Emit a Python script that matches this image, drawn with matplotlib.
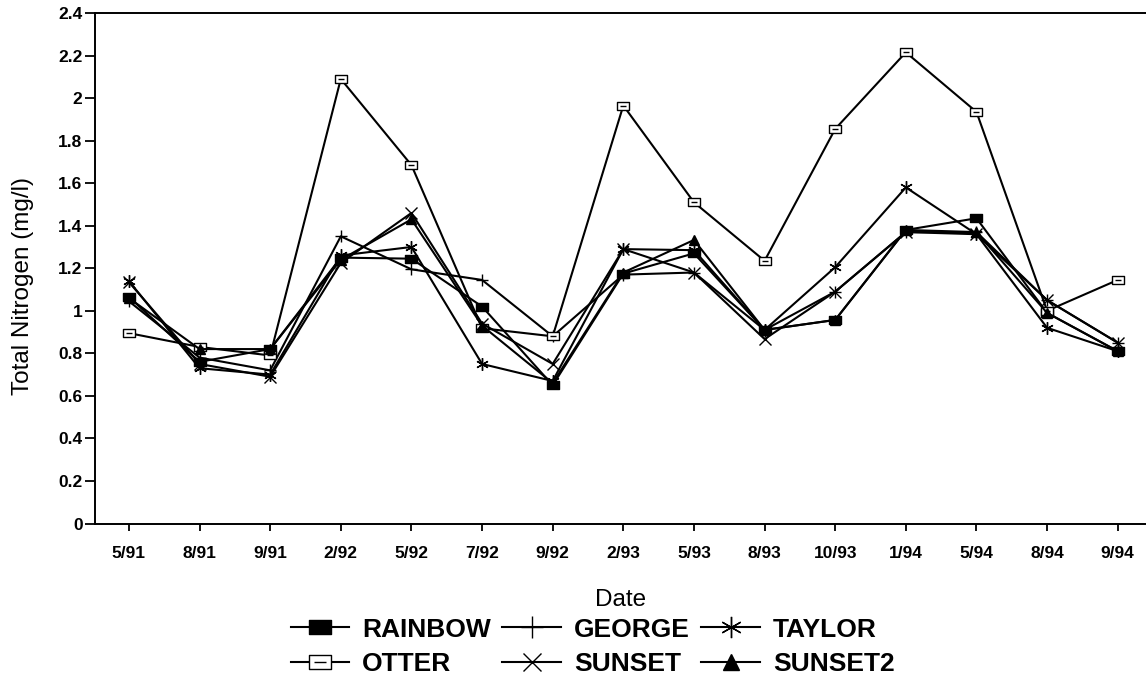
import matplotlib
matplotlib.use("Agg")
import matplotlib.pyplot as plt
from matplotlib.path import Path

plt.rcParams['font.family'] = ['Liberation Sans', 'DejaVu Sans']

dates = ["5/91", "8/91", "9/91", "2/92", "5/92", "7/92", "9/92", "2/93",
         "5/93", "8/93", "10/93", "1/94", "5/94", "8/94", "9/94"]

rainbow = [1.065, 0.76, 0.82, 1.25, 1.245, 1.02, 0.65, 1.175, 1.27, 0.91, 0.957, 1.38, 1.435, 0.99, 0.81]
george  = [1.045, 0.78, 0.72, 1.35, 1.195, 1.145, 0.88, 1.17, 1.18, 0.91, 1.09, 1.37, 1.37, 1.05, 0.85]
taylor  = [1.14, 0.73, 0.70, 1.26, 1.30, 0.75, 0.67, 1.29, 1.285, 0.91, 1.205, 1.58, 1.36, 0.92, 0.81]
otter   = [0.895, 0.83, 0.79, 2.09, 1.685, 0.918, 0.88, 1.965, 1.51, 1.235, 1.855, 2.215, 1.935, 1.0, 1.145]
sunset  = [1.135, 0.75, 0.69, 1.225, 1.46, 0.94, 0.75, 1.29, 1.18, 0.867, 1.09, 1.37, 1.36, 1.05, 0.85]
sunset2 = [1.06, 0.82, 0.82, 1.24, 1.43, 0.93, 0.66, 1.18, 1.333, 0.91, 0.957, 1.38, 1.37, 0.99, 0.81]

yticks = [0, 0.2, 0.4, 0.6, 0.8, 1, 1.2, 1.4, 1.6, 1.8, 2, 2.2, 2.4]
ytick_labels = ["0", "0.2", "0.4", "0.6", "0.8", "1", "1.2", "1.4", "1.6", "1.8", "2", "2.2", "2.4"]

# wide rectangle markers (filled, and open with an inner bar)
rect = Path([(-1, -0.62), (1, -0.62), (1, 0.62), (-1, 0.62), (-1, -0.62)],
            [Path.MOVETO, Path.LINETO, Path.LINETO, Path.LINETO, Path.CLOSEPOLY])
rect_bar = Path([(-1, -0.62), (1, -0.62), (1, 0.62), (-1, 0.62), (-1, -0.62),
                 (-0.55, 0.0), (0.55, 0.0)],
                [Path.MOVETO, Path.LINETO, Path.LINETO, Path.LINETO, Path.CLOSEPOLY,
                 Path.MOVETO, Path.LINETO])

fig = plt.figure(figsize=(11.46, 6.83), dpi=100)
ax = fig.add_axes([95 / 1146, (683 - 523.5) / 683, 1 - 95 / 1146, (523.5 - 13) / 683])

x = list(range(len(dates)))
lw = 1.5
series = [
    ("RAINBOW", rainbow, dict(marker=rect, ms=9, mfc='black', mec='black', mew=1.0)),
    ("GEORGE", george, dict(marker='+', ms=9, mec='black', mew=1.0)),
    ("TAYLOR", taylor, dict(marker=(6, 2, 0), ms=9, mec='black', mew=1.0)),
    ("OTTER", otter, dict(marker=rect_bar, ms=9, mfc='white', mec='black', mew=1.0)),
    ("SUNSET", sunset, dict(marker='x', ms=8, mec='black', mew=1.0)),
    ("SUNSET2", sunset2, dict(marker='^', ms=7, mfc='black', mec='black', mew=1.0)),
]
handles = {}
for name, vals, style in series:
    h, = ax.plot(x, vals, color='black', lw=lw, label=name, **style)
    handles[name] = h

ax.set_xlim(-0.48, 14.40)
ax.set_ylim(0, 2.4)
ax.set_xticks(x)
ax.set_xticklabels(dates)
ax.set_yticks(yticks)
ax.set_yticklabels(ytick_labels)

for lab in ax.get_xticklabels() + ax.get_yticklabels():
    lab.set_fontweight('bold')
    lab.set_fontsize(12.5)

ax.tick_params(axis='y', direction='out', length=7, width=1.3, pad=2)
ax.tick_params(axis='x', direction='out', length=5, width=1.3, pad=11)
ax.spines['right'].set_visible(False)
for s in ('left', 'bottom', 'top'):
    ax.spines[s].set_linewidth(1.4)

ax.set_xlabel("Date", fontsize=17.5, labelpad=20)
ax.set_ylabel("Total Nitrogen (mg/l)", fontsize=17.5)
ax.yaxis.set_label_coords(-0.058, 0.465)

order = ["RAINBOW", "OTTER", "GEORGE", "SUNSET", "TAYLOR", "SUNSET2"]
fig.legend([handles[k] for k in order], order, ncol=3, loc='center',
           bbox_to_anchor=(0.517, 0.053), frameon=False,
           prop={'weight': 'bold', 'size': 19},
           handlelength=2.2, handletextpad=0.5, columnspacing=0.45,
           labelspacing=0.4, markerscale=1.7)

fig.savefig("out.png", dpi=100)
